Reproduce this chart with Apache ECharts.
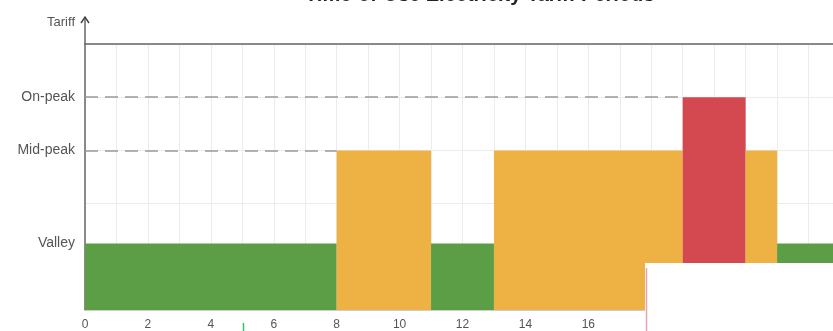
<!DOCTYPE html>
<html>
<head>
<meta charset="utf-8">
<script src="https://cdn.jsdelivr.net/npm/echarts@6/dist/echarts.min.js"></script>
<style>
  html, body { margin: 0; padding: 0; background: #fff; }
  #main { width: 833px; height: 331px; }
</style>
</head>
<body>
<div id="main"></div>
<script>
// 时段数据
var periodStart = [0, 8, 11, 13, 19, 21, 22];
var periodEnd = [8, 11, 13, 19, 21, 22, 24];
var periodLevel = ['Valley', 'Mid-peak', 'Valley', 'Mid-peak', 'On-peak', 'Mid-peak', 'Valley'];

// 电价档位
var levelNames = ['Valley', 'Mid-peak', 'On-peak'];
var levelValues = [1.25, 3, 4];
var levelColors = ['#5c9e45', '#eeb143', '#d4484f'];

var hourTicks = [0, 2, 4, 6, 8, 10, 12, 14, 16, 18, 20, 22, 24];

window.onload = function() {

	var myChart = echarts.init(document.getElementById('main'));

	var periodData = periodStart.map(function(s, i) {
		var lv = levelNames.indexOf(periodLevel[i]);
		return [s, periodEnd[i], levelValues[lv], lv];
	});

	// 虚线: 从纵轴到该档位第一个时段
	var guideLines = [];
	['Mid-peak', 'On-peak'].forEach(function(name) {
		var idx = periodLevel.indexOf(name);
		var v = levelValues[levelNames.indexOf(name)];
		guideLines.push([{ coord: [0, v] }, { coord: [periodStart[idx], v] }]);
	});

	var option = {
		animation: false,
		title: {
			text: 'Time-of-Use Electricity Tariff Periods',
			left: 300,
			top: -20,
			textStyle: { fontSize: 20, fontWeight: 'bold', color: '#222' }
		},
		grid: { left: 85, top: 44, width: 755, bottom: 21, outerBoundsMode: 'none', containLabel: false },
		xAxis: [{
			type: 'value',
			min: 0,
			max: 24,
			interval: 1,
			axisLine: { show: true, lineStyle: { color: '#ccc' } },
			axisTick: { show: false },
			axisLabel: {
				customValues: hourTicks,
				color: '#555',
				fontSize: 12,
				margin: 9
			},
			splitLine: { show: true, lineStyle: { color: '#ececec', width: 1 } }
		}, {
			type: 'value',
			position: 'top',
			min: 0,
			max: 24,
			axisLine: { show: true, onZero: false, lineStyle: { color: '#666', width: 1.5 } },
			axisTick: { show: false },
			axisLabel: { show: false },
			splitLine: { show: false }
		}],
		yAxis: {
			type: 'value',
			min: 0,
			max: 5,
			interval: 1,
			name: 'Tariff',
			nameLocation: 'end',
			nameGap: 22,
			nameTextStyle: { color: '#555', fontSize: 13, align: 'right', verticalAlign: 'middle', padding: [0, 10, 0, 0] },
			axisLine: { show: true, onZero: false, lineStyle: { color: '#666', width: 1.5 } },
			axisTick: { show: false },
			axisLabel: {
				customValues: levelValues,
				color: '#555',
				fontSize: 14,
				margin: 10,
				formatter: function(v) {
					var i = levelValues.indexOf(v);
					return i >= 0 ? levelNames[i] : '';
				}
			},
			splitLine: { show: true, lineStyle: { color: '#ececec', width: 1 } }
		},
		series: [{
			type: 'custom',
			renderItem: function(params, api) {
				var p0 = api.coord([api.value(0), api.value(2)]);
				var p1 = api.coord([api.value(1), 0]);
				return {
					type: 'rect',
					shape: { x: p0[0], y: p0[1], width: p1[0] - p0[0], height: p1[1] - p0[1] },
					style: { fill: levelColors[api.value(3)] }
				};
			},
			encode: { x: [0, 1], y: 2 },
			data: periodData,
			markLine: {
				silent: true,
				symbol: 'none',
				label: { show: false },
				lineStyle: { color: '#999', type: [13, 7], width: 1.5 },
				data: guideLines
			}
		}],
		graphic: [
			// 纵轴箭头
			{ type: 'line', shape: { x1: 85, y1: 44, x2: 85, y2: 18 }, style: { stroke: '#666', lineWidth: 1.5 } },
			{ type: 'polyline', shape: { points: [[81, 23], [85, 17], [89, 23]] }, style: { stroke: '#444', lineWidth: 1.5, fill: null } },
			// 右下角白色遮挡
			{ type: 'rect', z: 100, shape: { x: 645, y: 263, width: 190, height: 70 }, style: { fill: '#fff' } },
			{ type: 'line', z: 101, shape: { x1: 646.5, y1: 268, x2: 646.5, y2: 331 }, style: { stroke: '#e3a3b0', lineWidth: 1.5 } },
			{ type: 'line', z: 101, shape: { x1: 243.5, y1: 323, x2: 243.5, y2: 331 }, style: { stroke: '#2ec46a', lineWidth: 1.5 } }
		]
	};

	myChart.setOption(option);

}
</script>
</body>
</html>
